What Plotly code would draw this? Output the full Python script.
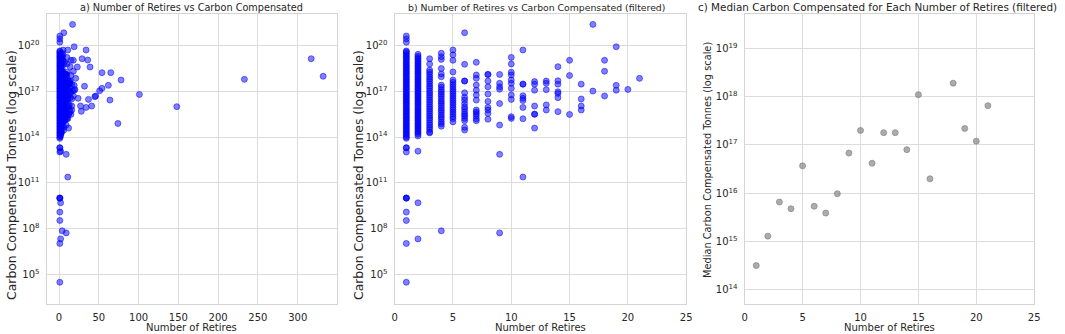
import plotly.graph_objects as go

# ---------------- data ----------------
# Panel b (filtered): carbon compensated values per number of retires (1..21)
retires_filtered = list(range(1, 22))
carbon_filtered = [
    # 1
    [8.3e13,
     1.0e14, 1.3e14, 1.6e14, 2.0e14, 2.5e14, 3.2e14, 4.0e14, 5.0e14, 6.3e14, 7.9e14,
     1.0e15, 1.3e15, 1.6e15, 2.0e15, 2.5e15, 3.2e15, 4.0e15, 5.0e15, 6.3e15, 7.9e15,
     1.0e16, 1.3e16, 1.6e16, 2.0e16, 2.5e16, 3.2e16, 4.0e16, 5.0e16, 6.3e16, 7.9e16,
     1.0e17, 1.3e17, 1.6e17, 2.0e17, 2.5e17, 3.2e17, 4.0e17, 5.0e17, 6.3e17, 7.9e17,
     1.0e18, 1.3e18, 1.6e18, 2.0e18, 2.5e18, 3.2e18, 4.0e18, 5.0e18, 6.3e18, 7.9e18,
     1.0e19, 1.3e19, 1.6e19, 2.0e19, 2.5e19, 3.2e19, 4.0e19, 4.5e19,
     1.7e20, 2.8e20, 4.3e20,
     2.0e13, 2.0e13, 1.05e13, 1.0e10, 1.0e10, 1.0e10, 1.2e9, 3.4e8, 1.05e7, 3.0e4],
    # 2
    [1.2e14, 1.6e14, 2.0e14, 2.5e14, 3.2e14, 4.0e14, 5.0e14, 6.3e14, 7.9e14,
     1.0e15, 1.3e15, 1.6e15, 2.0e15, 2.5e15, 3.2e15, 4.0e15, 5.0e15, 6.3e15, 7.9e15,
     1.0e16, 1.3e16, 1.6e16, 2.0e16, 2.5e16, 3.2e16, 4.0e16, 5.0e16, 6.3e16, 7.9e16,
     1.0e17, 1.3e17, 1.6e17, 2.0e17, 2.5e17, 3.2e17, 4.0e17, 5.0e17, 6.3e17, 7.9e17,
     1.0e18, 1.3e18, 1.6e18, 2.0e18, 2.5e18, 3.2e18, 4.0e18, 5.0e18, 6.3e18, 7.9e18,
     1.0e19, 1.3e19, 1.6e19, 2.0e19, 2.7e19,
     1.2e13, 4.9e9, 2.1e7],
    # 3
    [1.4e19, 6.3e18, 2.5e18, 1.8e18, 1.3e18, 8.9e17, 6.3e17, 4.5e17, 3.2e17, 2.2e17,
     1.6e17, 1.1e17, 7.9e16, 5.6e16, 4.0e16, 2.8e16, 2.0e16, 1.4e16, 1.0e16, 7.1e15,
     5.0e15, 3.5e15, 2.5e15, 1.8e15, 1.3e15, 8.9e14, 6.3e14, 4.5e14, 3.2e14, 2.2e14, 1.9e14],
    # 4
    [3.2e19, 1.9e19, 1.26e19, 3.2e18, 1.4e18, 9.1e17, 2.6e17, 1.9e17, 1.3e17, 9.3e16,
     6.6e16, 4.7e16, 3.3e16, 2.3e16, 1.7e16, 1.2e16, 8.3e15, 5.9e15, 4.2e15, 2.9e15,
     2.1e15, 1.5e15, 1.0e15, 7.4e14, 5.2e14, 7.1e7],
    # 5
    [5.2e19, 2.5e19, 1.1e19, 1.9e18, 5.6e17, 4.0e17, 2.8e17, 2.0e17, 1.4e17, 1.0e17,
     7.1e16, 5.0e16, 3.5e16, 2.5e16, 1.8e16, 1.3e16, 8.9e15, 6.3e15, 4.5e15, 3.2e15,
     2.2e15, 1.6e15, 1.0e15],
    # 6
    [7.1e20, 6.0e18, 4.8e17, 4.8e17, 8.1e16, 4.1e16, 2.7e16, 1.6e16, 9.8e15, 6.9e15,
     4.6e15, 3.2e15, 2.4e15, 1.7e15, 1.2e15, 4.4e14, 2.9e14],
    # 7
    [8.1e18, 1.2e18, 7.2e17, 2.6e17, 1.2e17, 5.8e16, 2.7e16, 6.0e15, 4.5e15, 3.4e15,
     2.4e15, 1.6e15, 1.2e15],
    # 8
    [1.3e18, 1.3e18, 4.8e17, 2.0e17, 6.8e16, 2.2e16, 8.9e15, 6.0e15, 3.6e15, 1.5e15],
    # 9
    [1.3e18, 3.4e17, 2.0e17, 1.4e17, 1.6e16, 6.2e14, 7.4e12, 5.2e7],
    # 10
    [1.7e19, 6.3e18, 1.8e18, 1.2e18, 5.6e17, 3.4e17, 1.6e17, 5.8e16, 3.0e16, 2.2e15, 1.7e15],
    # 11
    [5.2e19, 3.0e17, 3.0e17, 5.2e16, 3.5e16, 2.5e16, 8.9e15, 1.6e15, 2.4e11],
    # 12
    [4.4e17, 3.0e17, 1.2e17, 1.1e16, 3.2e15, 3.2e15, 3.9e14],
    # 13
    [4.8e17, 3.4e17, 1.3e17, 1.3e16, 6.0e15],
    # 14
    [4.2e18, 5.0e17, 3.0e17, 9.5e16, 7.4e16, 3.9e16, 4.7e15],
    # 15
    [1.1e19, 1.1e18, 3.1e15],
    # 16
    [3.0e17, 3.2e16, 1.1e16, 6.0e15],
    # 17
    [2.5e21, 1.05e17],
    # 18
    [1.1e19, 2.1e18, 5.0e16],
    # 19
    [8.5e19, 2.5e17, 1.2e17],
    # 20
    [1.35e17],
    # 21
    [7.2e17],
]

# Panel a only: points with many retires (removed by the filter)
retires_extra = [23, 24, 27, 28, 29, 32, 34, 34, 36, 37, 39, 41, 45, 46, 51, 54, 54,
                 62, 64, 65, 74, 78, 101, 148, 233, 317, 332]
carbon_extra = [4.0e18, 3.5e16, 1.1e16, 4.9e15, 1.4e19, 2.2e17, 8.9e15, 5.2e19, 1.15e19,
                3.0e16, 4.0e18, 1.1e16, 4.5e16, 5.0e16, 1.1e17, 1.6e17, 1.7e18,
                2.5e17, 2.7e16, 1.7e18, 7.9e14, 5.6e17, 6.3e16, 1.0e16, 6.2e17, 1.4e19, 9.8e17]

# Panel c: median carbon compensated per number of retires (filtered)
median_retires = [1, 2, 3, 4, 5, 6, 7, 8, 9, 10, 11, 12, 13, 14, 15, 16, 18, 19, 20, 21]
median_carbon = [3.2e14, 1.3e15, 6.6e15, 4.8e15, 3.7e16, 5.4e15, 3.9e15, 9.8e15, 6.8e16,
                 2.0e17, 4.2e16, 1.8e17, 1.8e17, 8.0e16, 1.1e18, 2.0e16, 1.9e18, 2.2e17,
                 1.2e17, 6.5e17]

# tick labels
ab_tickvals = [1e5, 1e8, 1e11, 1e14, 1e17, 1e20]
ab_ticktext = ["10<sup>5</sup>", "10<sup>8</sup>", "10<sup>11</sup>", "10<sup>14</sup>",
               "10<sup>17</sup>", "10<sup>20</sup>"]
c_tickvals = [1e14, 1e15, 1e16, 1e17, 1e18, 1e19]
c_ticktext = ["10<sup>14</sup>", "10<sup>15</sup>", "10<sup>16</sup>", "10<sup>17</sup>",
              "10<sup>18</sup>", "10<sup>19</sup>"]
a_xticks = [0, 50, 100, 150, 200, 250, 300]
bc_xticks = [0, 5, 10, 15, 20, 25]

titles = ["a) Number of Retires vs Carbon Compensated",
          "b) Number of Retires vs Carbon Compensated (filtered)",
          "c) Median Carbon Compensated for Each Number of Retires (filtered)"]
xlabel = "Number of Retires"
ylabels = ["Carbon Compensated Tonnes (log scale)",
           "Carbon Compensated Tonnes (log scale)",
           "Median Carbon Compensated Tonnes (log scale)"]

# ---------------- build ----------------
filt_x, filt_y = [], []
for r, vals in zip(retires_filtered, carbon_filtered):
    filt_x += [r] * len(vals)
    filt_y += vals
all_x = filt_x + retires_extra
all_y = filt_y + carbon_extra

W, H = 1065, 334
FONT = "DejaVu Sans"
TXT = "#262626"
GRID = "#dcdcdc"
FRAME = "#d4d4d4"

blue_marker = dict(size=6, color="rgba(0,0,255,0.5)",
                   line=dict(width=1, color="rgba(0,0,255,0.5)"))
gray_marker = dict(size=6, color="rgba(128,128,128,0.65)",
                   line=dict(width=1, color="rgba(128,128,128,0.65)"))

fig = go.Figure()
fig.add_trace(go.Scatter(x=all_x, y=all_y, mode="markers", marker=blue_marker,
                         xaxis="x", yaxis="y", showlegend=False, hoverinfo="skip"))
fig.add_trace(go.Scatter(x=filt_x, y=filt_y, mode="markers", marker=blue_marker,
                         xaxis="x2", yaxis="y2", showlegend=False, hoverinfo="skip"))
fig.add_trace(go.Scatter(x=median_retires, y=median_carbon, mode="markers", marker=gray_marker,
                         xaxis="x3", yaxis="y3", showlegend=False, hoverinfo="skip"))


def fx(p):  # pixel x -> paper fraction
    return p / W


def fy(p):  # pixel y (from top) -> paper fraction
    return (H - p) / H


px_dom = [(44, 337), (395, 689), (748, 1040)]
top_px, bot_px = 14, 304
ydom = [fy(bot_px), fy(top_px)]

common = dict(showgrid=True, gridcolor=GRID, gridwidth=1, zeroline=False,
              showline=True, mirror=True, linecolor=FRAME, linewidth=1.3,
              ticks="outside", ticklen=4, tickcolor="rgba(0,0,0,0)",
              tickfont=dict(family=FONT, size=10, color=TXT))

fig.update_layout(
    width=W, height=H, margin=dict(l=0, r=0, t=0, b=0),
    paper_bgcolor="white", plot_bgcolor="white",
    xaxis=dict(domain=[fx(px_dom[0][0]), fx(px_dom[0][1])], range=[-15.6, 349.6],
               tickvals=a_xticks, anchor="y", **common),
    yaxis=dict(domain=ydom, type="log", range=[3.05, 22.08], tickvals=ab_tickvals,
               ticktext=ab_ticktext, anchor="x", **common),
    xaxis2=dict(domain=[fx(px_dom[1][0]), fx(px_dom[1][1])], range=[0, 25],
                tickvals=bc_xticks, anchor="y2", **common),
    yaxis2=dict(domain=ydom, type="log", range=[3.05, 22.08], tickvals=ab_tickvals,
                ticktext=ab_ticktext, anchor="x2", **common),
    xaxis3=dict(domain=[fx(px_dom[2][0]), fx(px_dom[2][1])], range=[0, 25],
                tickvals=bc_xticks, anchor="y3", **common),
    yaxis3=dict(domain=ydom, type="log", range=[13.71, 19.71], tickvals=c_tickvals,
                ticktext=c_ticktext, anchor="x3", **common),
)

ann = []
title_x = [190.5, 538, 882]
title_size = [9.7, 9.3, 10.4]
ytitle_x = [8, 358, 710]
ytitle_y = [175, 175, 160]
ytitle_size = [12.4, 12.4, 9.8]
for i, (l, r) in enumerate(px_dom):
    cx = fx((l + r) / 2)
    ann.append(dict(text=titles[i], x=fx(title_x[i]), y=fy(7), xref="paper", yref="paper",
                    showarrow=False, xanchor="center", yanchor="middle",
                    font=dict(family=FONT, size=title_size[i], color=TXT)))
    ann.append(dict(text=xlabel, x=cx, y=fy(327), xref="paper", yref="paper",
                    showarrow=False, xanchor="center", yanchor="middle",
                    font=dict(family=FONT, size=10.0, color=TXT)))
    ann.append(dict(text=ylabels[i], x=fx(ytitle_x[i]), y=fy(ytitle_y[i]),
                    xref="paper", yref="paper", showarrow=False, textangle=-90,
                    xanchor="center", yanchor="middle",
                    font=dict(family=FONT, size=ytitle_size[i], color=TXT)))
fig.update_layout(annotations=ann)

fig.write_html("out.html", config={"displayModeBar": False},
               post_script="document.body.style.margin='0px';"
                           "document.body.style.overflow='hidden';")
